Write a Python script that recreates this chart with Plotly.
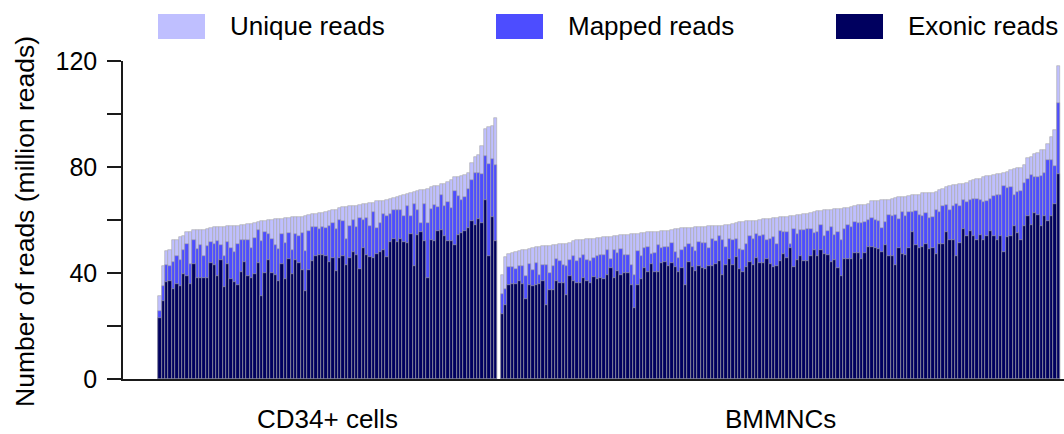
import numpy as np
import plotly.graph_objects as go

# ---- data (million reads per library, sorted by unique reads) ----
cd34_unique = [31.2, 42.8, 48.2, 48.8, 52.6, 52.6, 53.4, 53.8, 55.4, 55.4,
               56.3, 56.3, 56.3, 56.4, 56.7, 56.9, 57.2, 57.3, 57.3, 57.4,
               57.6, 57.7, 57.8, 57.9, 58.2, 58.3, 58.5, 58.6, 58.8, 59.1,
               59.6, 59.8, 59.9, 60.1, 60.2, 60.4, 60.5, 60.6, 60.9, 61.0,
               61.0, 61.1, 61.3, 61.4, 62.0, 62.3, 62.4, 62.6, 62.7, 63.0,
               63.3, 63.6, 63.8, 64.6, 64.9, 65.0, 65.1, 65.3, 65.4, 65.6,
               66.0, 66.2, 66.3, 66.4, 67.0, 67.2, 67.3, 67.5, 67.9, 68.3,
               68.7, 69.1, 69.5, 69.8, 70.2, 70.5, 71.1, 71.4, 71.5, 71.6,
               72.3, 72.8, 73.0, 73.7, 73.7, 74.2, 75.2, 76.1, 76.1, 76.7,
               77.1, 77.9, 81.5, 83.6, 84.6, 88.0, 94.5, 95.1, 95.3, 98.5]
cd34_mapped = [25.8, 35.2, 42.9, 42.8, 44.0, 46.3, 45.0, 48.8, 51.1, 43.4,
               52.6, 48.9, 50.6, 46.3, 50.3, 51.6, 50.9, 52.2, 50.7, 46.3,
               51.6, 49.6, 48.1, 50.9, 52.6, 52.6, 52.4, 49.4, 53.2, 56.2,
               51.9, 55.4, 54.8, 52.9, 50.6, 48.9, 54.6, 51.3, 55.0, 48.8,
               54.6, 53.9, 55.2, 48.2, 55.9, 57.2, 57.2, 56.7, 57.3, 56.9,
               57.8, 58.8, 56.7, 60.1, 59.7, 52.8, 57.8, 60.1, 57.2, 60.7,
               60.1, 60.7, 57.6, 63.0, 56.9, 58.8, 62.3, 61.6, 62.3, 63.6,
               63.6, 63.9, 61.6, 65.2, 61.6, 66.1, 63.9, 58.8, 66.2, 58.8,
               64.1, 65.8, 64.9, 69.5, 65.4, 66.9, 64.6, 71.1, 69.2, 67.4,
               68.7, 71.7, 75.2, 77.7, 77.7, 77.3, 84.0, 81.2, 83.0, 80.9]
cd34_exonic = [23.0, 29.3, 36.5, 36.8, 34.1, 36.0, 35.0, 39.7, 38.7, 36.0,
               43.5, 38.2, 38.2, 38.2, 38.2, 43.6, 43.1, 38.7, 45.0, 34.6,
               43.5, 37.9, 36.7, 35.4, 40.4, 44.2, 38.7, 38.2, 39.5, 43.6,
               31.2, 40.1, 45.0, 40.1, 39.2, 36.8, 43.5, 37.9, 45.4, 39.5,
               45.0, 43.9, 41.1, 33.1, 41.1, 44.7, 46.6, 46.9, 46.9, 46.6,
               44.3, 45.8, 40.7, 45.7, 46.6, 43.1, 45.7, 47.9, 46.9, 41.4,
               49.4, 46.9, 46.0, 45.7, 47.3, 48.1, 48.8, 45.9, 51.7, 53.0,
               51.7, 53.0, 51.7, 51.3, 54.7, 42.8, 54.4, 55.4, 51.9, 38.1,
               52.5, 51.9, 55.7, 56.3, 53.8, 51.9, 51.9, 50.7, 54.4, 55.0,
               55.7, 56.9, 59.5, 58.2, 60.5, 58.8, 67.4, 46.3, 61.0, 51.9]

bm_unique = [39.4, 46.0, 47.1, 47.5, 47.8, 48.4, 48.8, 48.8, 49.2, 49.4,
             49.7, 49.7, 50.1, 50.1, 50.3, 50.5, 50.7, 50.9, 51.0, 51.0,
             51.3, 51.9, 52.6, 52.6, 52.6, 52.9, 52.9, 52.9, 53.2, 53.2,
             53.5, 53.6, 53.6, 53.8, 54.1, 54.2, 54.3, 54.5, 54.9, 54.9,
             54.9, 55.0, 55.0, 55.3, 55.3, 55.6, 55.6, 55.8, 55.9, 55.9,
             56.3, 56.6, 56.6, 56.8, 56.9, 57.0, 57.0, 57.2, 57.2, 57.3,
             57.3, 57.6, 57.9, 57.9, 57.9, 57.9, 58.0, 58.2, 58.6, 58.8,
             59.2, 59.2, 59.5, 59.7, 59.7, 59.8, 60.1, 60.3, 60.3, 60.3,
             60.6, 60.7, 61.0, 61.0, 61.1, 61.4, 61.6, 62.0, 62.0, 62.2,
             62.4, 62.6, 62.9, 63.5, 63.5, 63.6, 63.9, 63.9, 64.1, 64.1,
             64.3, 64.5, 64.5, 64.8, 65.1, 65.5, 65.8, 65.8, 66.1, 67.0,
             67.3, 67.3, 67.4, 67.4, 67.7, 68.1, 68.3, 68.6, 68.7, 68.7,
             69.0, 69.4, 69.6, 69.6, 70.2, 70.2, 70.2, 70.2, 70.4, 71.4,
             71.7, 72.3, 72.7, 73.3, 73.3, 73.6, 73.7, 74.0, 74.6, 75.0,
             75.5, 75.5, 76.3, 76.5, 76.5, 76.9, 77.2, 77.5, 77.8, 78.2,
             78.7, 79.2, 79.5, 79.8, 80.7, 83.3, 83.6, 84.8, 85.1, 86.5,
             86.5, 88.6, 91.3, 94.1, 118.3]
bm_mapped = [32.2, 34.1, 42.2, 42.2, 41.6, 42.6, 42.6, 38.8, 43.5, 41.2,
             43.8, 39.4, 43.1, 43.1, 40.1, 42.7, 45.4, 44.4, 43.1, 42.7,
             44.8, 46.3, 44.4, 45.6, 46.9, 44.8, 44.4, 45.6, 46.3, 46.9,
             46.9, 48.8, 45.4, 48.8, 47.5, 49.0, 46.9, 46.9, 43.1, 39.4,
             48.2, 46.3, 49.4, 50.0, 47.3, 47.5, 50.7, 49.4, 49.7, 50.0,
             51.3, 47.8, 45.6, 48.8, 49.8, 51.1, 49.8, 48.4, 51.6, 51.3,
             51.3, 49.4, 52.9, 52.2, 54.0, 52.6, 50.0, 52.9, 52.3, 52.9,
             49.0, 48.7, 51.1, 53.8, 52.8, 54.7, 53.8, 54.4, 52.6, 52.9,
             53.4, 51.1, 55.9, 55.4, 55.4, 51.1, 56.6, 54.8, 56.3, 56.3,
             56.6, 56.6, 55.1, 55.4, 58.2, 53.8, 55.7, 57.3, 54.4, 55.3,
             52.6, 56.6, 58.2, 57.3, 59.1, 58.8, 58.8, 59.4, 60.1, 60.7,
             60.1, 59.8, 56.9, 59.2, 62.0, 61.4, 61.8, 60.4, 63.0, 61.4,
             63.0, 63.0, 63.5, 62.0, 61.6, 62.6, 60.7, 61.1, 63.9, 63.0,
             65.1, 65.8, 63.6, 65.1, 66.1, 65.1, 67.6, 66.8, 67.4, 68.0,
             68.0, 67.6, 66.8, 67.1, 67.9, 68.9, 69.5, 69.5, 72.9, 72.0,
             72.3, 69.3, 70.4, 71.0, 73.9, 75.4, 77.0, 76.4, 76.4, 76.6,
             77.7, 82.7, 82.7, 80.2, 104.1]
bm_exonic = [24.6, 27.8, 35.6, 36.0, 36.0, 37.1, 35.9, 30.3, 35.3, 35.0,
             35.3, 35.9, 37.1, 28.0, 33.4, 33.4, 37.1, 36.4, 36.4, 31.8,
             38.9, 36.8, 36.4, 36.4, 38.1, 37.1, 36.2, 38.4, 37.7, 38.1,
             37.7, 39.4, 41.9, 38.1, 40.6, 39.4, 40.1, 40.1, 35.6, 26.8,
             35.6, 37.7, 41.9, 40.3, 43.3, 40.3, 40.3, 43.8, 44.0, 42.6,
             43.8, 42.2, 40.3, 42.0, 35.4, 44.0, 42.3, 40.6, 42.6, 41.9,
             41.5, 42.7, 42.7, 43.5, 44.4, 39.1, 42.9, 45.4, 42.9, 46.0,
             41.6, 40.2, 42.2, 44.0, 43.1, 45.6, 43.8, 43.8, 45.4, 43.5,
             42.2, 42.7, 44.4, 47.3, 45.6, 49.4, 42.3, 44.8, 46.3, 44.4,
             44.4, 46.3, 48.7, 46.3, 48.7, 47.3, 46.9, 44.0, 45.0, 41.9,
             38.7, 45.3, 45.3, 45.3, 47.5, 47.5, 45.3, 47.5, 50.0, 50.0,
             49.4, 49.1, 47.8, 50.6, 46.6, 46.6, 43.1, 49.4, 47.3, 46.9,
             49.6, 55.3, 50.6, 49.6, 50.0, 51.0, 49.1, 49.4, 47.3, 51.0,
             50.9, 55.3, 52.3, 52.3, 46.6, 51.5, 56.7, 53.8, 55.9, 53.8,
             52.3, 54.2, 52.5, 53.8, 55.9, 53.8, 52.3, 54.1, 47.9, 53.4,
             53.8, 57.8, 55.0, 52.5, 57.8, 61.4, 58.2, 62.6, 62.0, 57.6,
             61.7, 59.7, 61.7, 66.0, 77.5]

group_names = ["CD34+ cells", "BMMNCs"]
series_names = ["Unique reads", "Mapped reads", "Exonic reads"]
series_colors = ["#bfbfff", "#4d4dff", "#00005f"]
y_ticks = [0, 40, 80, 120]

# ---- positions: one slot per library, one empty slot between groups ----
n1, n2 = len(cd34_unique), len(bm_unique)
x_cd34 = np.arange(n1)
x_bm = np.arange(n2) + n1 + 1
x_all = np.concatenate([x_cd34, x_bm])
series_values = [cd34_unique + bm_unique,
                 cd34_mapped + bm_mapped,
                 cd34_exonic + bm_exonic]

W, H = 1064, 434
ML, MR, MT, MB = 123, 0, 61, 55
FONT = "Liberation Sans, Arial, sans-serif"

fig = go.Figure()
for name, vals, col in zip(series_names, series_values, series_colors):
    fig.add_trace(go.Bar(
        x=x_all, y=vals, name=name, width=1,
        marker=dict(color=col, line=dict(color="#a8a8a8", width=0.6)),
        showlegend=False,
    ))

# pixel -> paper helpers for the legend block and labels
pw, ph = W - ML - MR, H - MT - MB
def px_x(px):
    return (px - ML) / pw
def px_y(py):
    return (H - MB - py) / ph

shapes, annotations = [], []
legend_left = [158, 496, 836]
for name, col, lx in zip(series_names, series_colors, legend_left):
    shapes.append(dict(type="rect", xref="paper", yref="paper",
                       x0=px_x(lx), x1=px_x(lx + 47), y0=px_y(39), y1=px_y(14),
                       fillcolor=col, line=dict(width=0)))
    annotations.append(dict(text=name, xref="paper", yref="paper",
                            x=px_x(lx + 70), y=px_y(26), xanchor="left",
                            yanchor="middle", showarrow=False,
                            font=dict(size=26, color="#000000", family=FONT)))

# group labels centred under each block of bars
for gname, xs in zip(group_names, [x_cd34, x_bm]):
    annotations.append(dict(text=gname, xref="x", yref="paper",
                            x=float(xs.mean()), y=0, yanchor="top", yshift=-23,
                            showarrow=False,
                            font=dict(size=26, color="#000000", family=FONT)))

# rotated y-axis title
annotations.append(dict(text="Number of reads (million reads)", xref="paper",
                        yref="paper", x=0, y=0.5, xshift=-98, yshift=-2,
                        textangle=-90, xanchor="center", yanchor="middle",
                        showarrow=False,
                        font=dict(size=26.5, color="#000000", family=FONT)))

slot_px = 3.39
x0 = -0.5 - (158.3 - ML) / slot_px
fig.update_layout(
    width=W, height=H,
    margin=dict(l=ML, r=MR, t=MT, b=MB),
    paper_bgcolor="white", plot_bgcolor="white",
    barmode="overlay", bargap=0,
    font=dict(family=FONT, size=25, color="#000000"),
    shapes=shapes, annotations=annotations,
    xaxis=dict(range=[x0, x0 + pw / slot_px], showticklabels=False,
               ticks="", showgrid=False, zeroline=False,
               showline=True, linecolor="#1a1a1a", linewidth=1.5),
    yaxis=dict(range=[0, 120], tickvals=y_ticks, ticks="outside",
               ticklen=14, tickwidth=1.5, tickcolor="#1a1a1a",
               ticklabelstandoff=5,
               minor=dict(dtick=20, ticks="outside", ticklen=14,
                          tickwidth=1.5, tickcolor="#1a1a1a"),
               showgrid=False, zeroline=False, showline=True,
               linecolor="#1a1a1a", linewidth=1.5,
               tickfont=dict(size=25, color="#000000", family=FONT)),
)

fig.write_html("out.html")
